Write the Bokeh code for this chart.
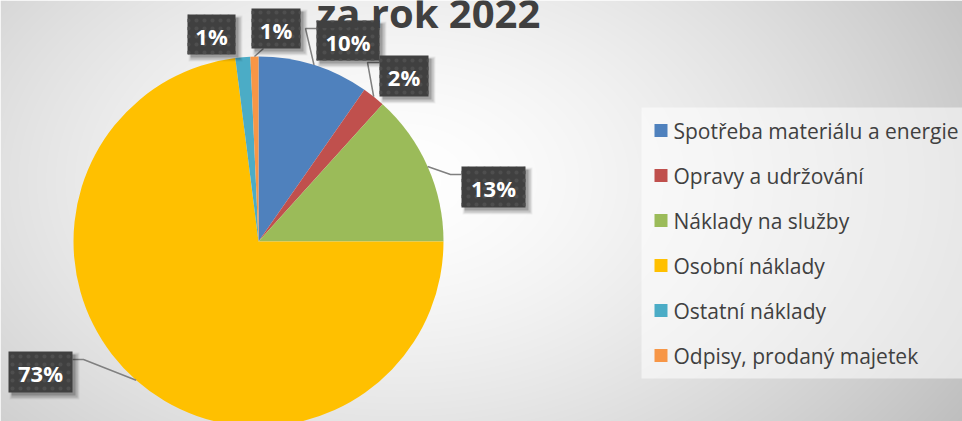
import numpy as np
from bokeh.plotting import figure
from bokeh.models import Range1d
from bokeh.core.properties import value
from bokeh.embed import file_html
from bokeh.resources import INLINE

# ---------------- data ----------------
categories = ["Spotřeba materiálu a energie", "Opravy a udržování", "Náklady na služby",
              "Osobní náklady", "Ostatní náklady", "Odpisy, prodaný majetek"]
shares = [9.7, 2.0, 13.3, 73.0, 1.3, 0.7]          # percent
colors = ["#4f81bd", "#c0504d", "#9bbb59", "#ffc000", "#4bacc6", "#f79646"]
title_text = "za rok 2022"

# ---------------- layout (screen px, y down) ----------------
W, H, M = 962, 421, 0
CX, CY, R = 258, 241, 185
label_box = [(316, 20, 379, 60), (379, 55, 428, 96), (461, 166, 525, 207),
             (8, 351, 72, 392), (187, 14, 235, 54), (251, 8, 300, 48)]
leader_elbow = [(305, 28), (367, 62), (450, 174), (83, 359), None, (263, 48)]
leader_end = [(316, 28), (379, 62), (461, 174), (72, 359), None, None]
LEG_X0, LEG_Y0, LEG_DY = 654, 130, 45


def sy(y):
    return H - y


p = figure(width=W - 2 * M, height=H - 2 * M, x_range=Range1d(M, W - M),
           y_range=Range1d(M, H - M), output_backend="svg", toolbar_location=None,
           min_border=0)
p.axis.visible = False
p.grid.visible = False
p.outline_line_color = None
p.background_fill_color = "#ffffff"
p.border_fill_color = "#ffffff"

# background radial gradient
w, h = W - 2 * M, H - 2 * M
xs = M + np.arange(w) + 0.5
ys_screen = H - (M + np.arange(h) + 0.5)
X, Y = np.meshgrid(xs, ys_screen)
d = np.sqrt(((X - 400) / 600.0) ** 2 + ((Y - 180) / 400.0) ** 2)
g = np.clip(255 - 55 * np.clip(d, 0, 1.3) ** 1.5, 0, 255).astype(np.uint8)
img = np.empty((h, w), dtype=np.uint32)
view = img.view(dtype=np.uint8).reshape((h, w, 4))
view[..., 0] = g
view[..., 1] = g
view[..., 2] = g
view[..., 3] = 255
p.image_rgba(image=[img], x=M, y=M, dw=w, dh=h)

# pie
tot = float(sum(shares))
cum = np.concatenate([[0.0], np.cumsum(shares)]) / tot * 2 * np.pi
th0, th1 = cum[:-1], cum[1:]
p.wedge(x=CX, y=sy(CY), radius=R, start_angle=list(np.pi / 2 - th1),
        end_angle=list(np.pi / 2 - th0), direction="anticlock",
        fill_color=colors, line_color=None)

# leaders
mid = (th0 + th1) / 2
lx, ly = [], []
for i in range(len(shares)):
    if leader_elbow[i] is None:
        continue
    ax = CX + R * np.sin(mid[i])
    ay = CY - R * np.cos(mid[i])
    pts = [(ax, ay), leader_elbow[i]]
    if leader_end[i] is not None:
        pts.append(leader_end[i])
    lx.append([q[0] for q in pts])
    ly.append([sy(q[1]) for q in pts])
p.multi_line(xs=lx, ys=ly, line_color="#808080", line_width=1.5)

# label boxes with shadow
L = [b[0] for b in label_box]
T = [b[1] for b in label_box]
Rr = [b[2] for b in label_box]
B = [b[3] for b in label_box]
for off, ext, a in [(4, 3, 0.05), (4, 2, 0.07), (4, 1, 0.1), (3, 0, 0.18)]:
    p.quad(left=[v + off - ext for v in L], right=[v + off + ext for v in Rr],
           top=[sy(v + off - ext) for v in T], bottom=[sy(v + off + ext) for v in B],
           fill_color="black", fill_alpha=a, line_color=None)
p.quad(left=L, right=Rr, top=[sy(v) for v in T], bottom=[sy(v) for v in B],
       fill_color="#404040", line_color=None, hatch_pattern="dot",
       hatch_color="#4e4e4e", hatch_scale=8, hatch_weight=1)
labels = [f"{round(s / tot * 100)}%" for s in shares]
p.text(x=[(a + b) / 2 for a, b in zip(L, Rr)], y=[sy((a + b) / 2 + 1) for a, b in zip(T, B)],
       text=labels, text_align="center", text_baseline="middle",
       text_font=value("Open Sans"), text_font_style="bold", text_font_size="22px",
       text_color="white")

# title (partly cut at top, as in the original)
p.text(x=[428], y=[sy(12)], text=[title_text], text_align="center",
       text_baseline="alphabetic", text_font=value("Open Sans"), text_font_style="bold",
       text_font_size="40px", text_color="#404040")

# legend
p.quad(left=[641], right=[W], top=[sy(107)], bottom=[sy(378)],
       fill_color="white", fill_alpha=0.55, line_color=None)
rows = [LEG_Y0 + LEG_DY * i for i in range(len(categories))]
p.quad(left=[LEG_X0] * len(rows), right=[LEG_X0 + 13] * len(rows),
       top=[sy(r - 6.5) for r in rows], bottom=[sy(r + 6.5) for r in rows],
       fill_color=colors, line_color=None)
p.text(x=[LEG_X0 + 19] * len(rows), y=[sy(r) for r in rows], text=categories,
       text_align="left", text_baseline="middle", text_font=value("Open Sans"),
       text_font_size="21px", text_color="#404040")

open("out.html", "w").write(file_html(p, INLINE))
